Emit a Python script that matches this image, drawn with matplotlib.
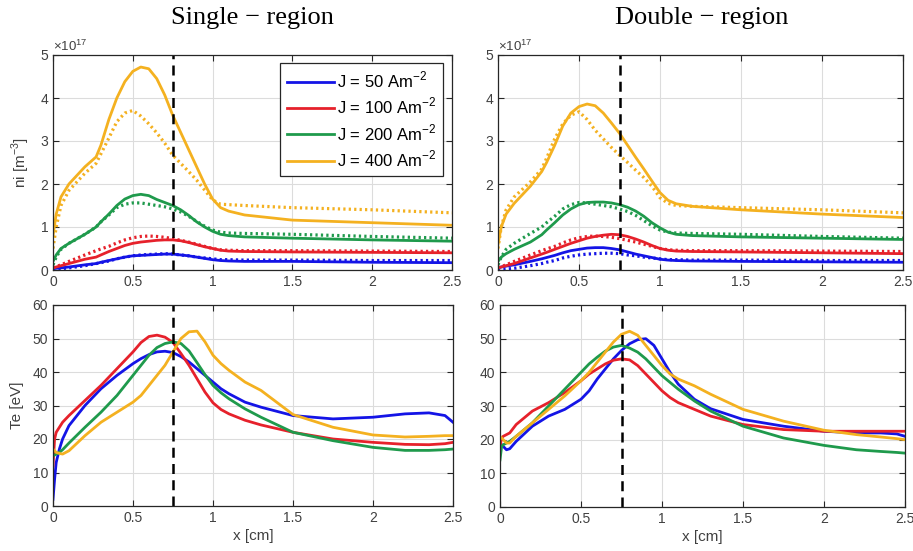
import matplotlib
matplotlib.use("Agg")
import matplotlib.pyplot as plt
import numpy as np

plt.rcParams['font.family'] = ['Liberation Sans', 'DejaVu Sans']
plt.rcParams['mathtext.fontset'] = 'custom'
plt.rcParams['mathtext.rm'] = 'Liberation Sans'

# ---------------- data ----------------
currents = [50, 100, 200, 400]
labels = ["J = 50 Am$^{-2}$", "J = 100 Am$^{-2}$", "J = 200 Am$^{-2}$", "J = 400 Am$^{-2}$"]
colors = ['#1414e6', '#e6212b', '#1f9a4c', '#f4b120']

x_ni = [0, 0.02, 0.05, 0.1, 0.2, 0.27, 0.3, 0.35, 0.4, 0.45, 0.5, 0.55, 0.6, 0.65, 0.7,
        0.75, 0.8, 0.85, 0.9, 0.95, 1.0, 1.05, 1.1, 1.2, 1.5, 2.0, 2.5]

# Single region, ni (x1e17 m^-3): solid lines
single_ni_solid_50 = [0.03, 0.04, 0.05, 0.07, 0.12, 0.15, 0.18, 0.22, 0.26, 0.3, 0.33, 0.34, 0.35, 0.36, 0.37,
                      0.37, 0.35, 0.33, 0.3, 0.27, 0.24, 0.22, 0.21, 0.2, 0.2, 0.18, 0.17]
single_ni_solid_100 = [0.05, 0.07, 0.1, 0.15, 0.25, 0.3, 0.35, 0.43, 0.5, 0.57, 0.62, 0.65, 0.67, 0.69, 0.7,
                       0.7, 0.68, 0.64, 0.59, 0.54, 0.5, 0.46, 0.44, 0.43, 0.42, 0.41, 0.4]
single_ni_solid_200 = [0.2, 0.35, 0.5, 0.62, 0.83, 1.0, 1.12, 1.3, 1.5, 1.65, 1.73, 1.76, 1.73, 1.64, 1.57,
                       1.5, 1.4, 1.27, 1.12, 1.0, 0.9, 0.83, 0.8, 0.77, 0.74, 0.7, 0.67]
single_ni_solid_400 = [0.8, 1.3, 1.7, 2.0, 2.4, 2.63, 2.9, 3.5, 4.0, 4.38, 4.62, 4.72, 4.68, 4.45, 4.07,
                       3.6, 3.2, 2.8, 2.4, 2.0, 1.65, 1.45, 1.37, 1.28, 1.16, 1.1, 1.04]
# Single region, ni: dotted lines
single_ni_dot_50 = [0.0, 0.01, 0.03, 0.05, 0.1, 0.15, 0.17, 0.21, 0.26, 0.3, 0.33, 0.35, 0.36, 0.37, 0.38,
                    0.37, 0.35, 0.33, 0.3, 0.28, 0.26, 0.24, 0.24, 0.23, 0.23, 0.22, 0.22]
single_ni_dot_100 = [0.05, 0.08, 0.12, 0.2, 0.35, 0.45, 0.49, 0.55, 0.63, 0.7, 0.75, 0.78, 0.79, 0.78, 0.76,
                     0.73, 0.69, 0.65, 0.6, 0.55, 0.5, 0.47, 0.46, 0.45, 0.45, 0.44, 0.43]
single_ni_dot_200 = [0.12, 0.3, 0.48, 0.62, 0.83, 1.0, 1.12, 1.28, 1.45, 1.53, 1.56, 1.56, 1.53, 1.5, 1.47,
                     1.42, 1.35, 1.25, 1.13, 1.02, 0.93, 0.88, 0.86, 0.85, 0.83, 0.78, 0.74]
single_ni_dot_400 = [0.5, 1.0, 1.5, 1.85, 2.25, 2.48, 2.7, 3.07, 3.45, 3.65, 3.71, 3.58, 3.4, 3.19, 2.95,
                     2.67, 2.48, 2.29, 2.09, 1.86, 1.63, 1.53, 1.52, 1.5, 1.45, 1.4, 1.33]

# Double region, ni: solid lines
double_ni_solid_50 = [0.05, 0.07, 0.09, 0.12, 0.2, 0.26, 0.29, 0.34, 0.4, 0.45, 0.48, 0.51, 0.52, 0.52, 0.5,
                      0.47, 0.42, 0.37, 0.33, 0.29, 0.25, 0.23, 0.22, 0.21, 0.2, 0.19, 0.18]
double_ni_solid_100 = [0.05, 0.07, 0.1, 0.15, 0.28, 0.37, 0.41, 0.48, 0.55, 0.62, 0.68, 0.74, 0.78, 0.81, 0.83,
                       0.82, 0.78, 0.72, 0.65, 0.57, 0.5, 0.46, 0.44, 0.43, 0.42, 0.4, 0.38]
double_ni_solid_200 = [0.2, 0.3, 0.38, 0.48, 0.65, 0.82, 0.93, 1.1, 1.28, 1.42, 1.52, 1.57, 1.58, 1.58, 1.56,
                       1.52, 1.46, 1.37, 1.25, 1.1, 0.98, 0.88, 0.83, 0.8, 0.77, 0.74, 0.71]
double_ni_solid_400 = [0.6, 1.0, 1.3, 1.55, 1.95, 2.29, 2.5, 2.9, 3.35, 3.65, 3.8, 3.86, 3.82, 3.65, 3.42,
                       3.18, 2.9, 2.62, 2.35, 2.07, 1.8, 1.62, 1.54, 1.48, 1.4, 1.3, 1.22]
# Double region, ni: dotted lines
double_ni_dot_50 = [0.0, 0.01, 0.02, 0.04, 0.1, 0.15, 0.18, 0.22, 0.28, 0.32, 0.35, 0.37, 0.38, 0.39, 0.39,
                    0.38, 0.35, 0.33, 0.3, 0.28, 0.26, 0.24, 0.24, 0.23, 0.23, 0.22, 0.22]
double_ni_dot_100 = [0.05, 0.08, 0.12, 0.2, 0.35, 0.45, 0.49, 0.55, 0.63, 0.7, 0.75, 0.78, 0.79, 0.78, 0.76,
                     0.73, 0.69, 0.65, 0.6, 0.55, 0.5, 0.47, 0.46, 0.45, 0.45, 0.44, 0.43]
double_ni_dot_200 = [0.12, 0.3, 0.48, 0.62, 0.85, 1.0, 1.1, 1.25, 1.42, 1.52, 1.57, 1.56, 1.53, 1.5, 1.47,
                     1.42, 1.36, 1.27, 1.15, 1.03, 0.93, 0.88, 0.86, 0.85, 0.83, 0.78, 0.74]
double_ni_dot_400 = [0.5, 1.0, 1.4, 1.7, 2.05, 2.35, 2.6, 3.05, 3.4, 3.6, 3.68, 3.5, 3.25, 3.05, 2.85,
                     2.67, 2.5, 2.32, 2.15, 1.95, 1.68, 1.55, 1.5, 1.48, 1.45, 1.4, 1.33]

x_te = [0, 0.01, 0.02, 0.04, 0.06, 0.1, 0.2, 0.3, 0.4, 0.5, 0.55, 0.6, 0.65, 0.7, 0.75, 0.8,
        0.85, 0.9, 0.95, 1.0, 1.05, 1.1, 1.2, 1.3, 1.5, 1.75, 2.0, 2.2, 2.35, 2.45, 2.5]

single_te_50 = [2, 8, 13, 17, 20, 24, 30, 35, 39, 42.5, 44, 45.2, 46, 46.2, 45.8, 44.6,
                43, 41, 39, 37, 35, 33.5, 31, 29.5, 27, 26, 26.5, 27.5, 27.8, 27, 25]
single_te_100 = [12, 20, 22, 23.5, 25, 27, 31.5, 36, 41, 46, 48.8, 50.6, 51, 50.4, 48.8, 45.5,
                 42, 38, 34, 30.8, 28.8, 27.5, 25.6, 24.2, 22, 20, 19, 18.4, 18.3, 18.6, 19]
single_te_200 = [15, 15.2, 15.5, 16, 16.8, 18.8, 23.5, 28, 33, 39, 42, 45, 47.3, 48.5, 49, 48.5,
                 46.3, 42.8, 39.2, 36, 33.8, 32, 29, 26.5, 22, 19.5, 17.5, 16.6, 16.6, 16.8, 17]
single_te_400 = [17, 16.5, 16, 15.7, 15.5, 16.5, 21, 25, 28, 31, 33, 36, 39, 42, 46, 50,
                 52, 52.2, 49, 45, 42.5, 40.5, 37, 34.5, 27.3, 23.5, 21.2, 20.6, 20.8, 21, 21]

double_te_50 = [19, 18.5, 18, 17, 17.3, 19.5, 24, 27, 29, 32, 34.5, 38, 41, 44, 46.5, 48.5,
                49.7, 50, 48, 44, 40, 36.5, 32, 29.2, 26, 24, 22.5, 22, 22, 21.7, 21]
double_te_100 = [18, 20.5, 21, 21.5, 22, 24.5, 28.5, 31, 34, 37.5, 39.5, 41, 42.5, 43.6, 44, 43.7,
                 42, 39.5, 37, 34.5, 32.5, 31, 29, 27, 24.5, 23, 22.5, 22.5, 22.5, 22.5, 22.5]
double_te_200 = [14, 18, 18.5, 19, 19.5, 21, 25, 30, 35, 40, 42.5, 44.5, 46.3, 47.5, 48, 47.2,
                 46, 44, 41.5, 39, 37, 35, 31.5, 28.5, 24, 20.5, 18.3, 17, 16.5, 16.2, 16]
double_te_400 = [21, 20.5, 20, 19, 19, 21, 25, 29, 33, 37.5, 40, 43, 46, 49, 51.3, 52.2,
                 51, 48, 45, 42, 39.5, 38, 36, 33.5, 29, 25.5, 22.8, 21.5, 20.8, 20.3, 20]

x_boundary = 0.75
x_ticks = [0, 0.5, 1, 1.5, 2, 2.5]
x_ticklabels = ['0', '0.5', '1', '1.5', '2', '2.5']

single_solid = [single_ni_solid_50, single_ni_solid_100, single_ni_solid_200, single_ni_solid_400]
single_dot = [single_ni_dot_50, single_ni_dot_100, single_ni_dot_200, single_ni_dot_400]
double_solid = [double_ni_solid_50, double_ni_solid_100, double_ni_solid_200, double_ni_solid_400]
double_dot = [double_ni_dot_50, double_ni_dot_100, double_ni_dot_200, double_ni_dot_400]
single_te = [single_te_50, single_te_100, single_te_200, single_te_400]
double_te = [double_te_50, double_te_100, double_te_200, double_te_400]

# ---------------- figure ----------------
W, H = 913, 551
fig = plt.figure(figsize=(W / 100, H / 100), dpi=100)

def pos(l, r, t, b):
    return [l / W, 1 - b / H, (r - l) / W, (b - t) / H]

ax_tl = fig.add_axes(pos(53, 452, 55, 270))
ax_tr = fig.add_axes(pos(498, 903, 55, 270))
ax_bl = fig.add_axes(pos(53, 453, 305, 506))
ax_br = fig.add_axes(pos(500, 905, 305, 507))

tick_color = '#404040'

def style(ax, ymax, yticks):
    ax.set_xlim(0, 2.5)
    ax.set_ylim(0, ymax)
    ax.set_xticks(x_ticks)
    ax.set_xticklabels(x_ticklabels)
    ax.set_yticks(yticks)
    ax.grid(True, color='#dcdcdc', linewidth=0.8)
    ax.set_axisbelow(True)
    ax.tick_params(direction='in', top=True, right=True, length=4, width=0.8,
                   labelsize=10, colors='#262626', labelcolor=tick_color)
    for s in ax.spines.values():
        s.set_color('#262626')
        s.set_linewidth(0.9)

lw = 2.0
dot_ls = (0, (0.7, 1.0))
for ax, solid, dot in [(ax_tl, single_solid, single_dot), (ax_tr, double_solid, double_dot)]:
    style(ax, 5, [0, 1, 2, 3, 4, 5])
    handles = []
    for c, ys, yd, lab in zip(colors, solid, dot, labels):
        h, = ax.plot(x_ni, ys, color=c, lw=lw, solid_joinstyle='round', label=lab)
        ax.plot(x_ni, yd, color=c, lw=2.3, linestyle=dot_ls)
        handles.append(h)
    ax.axvline(x_boundary, color='black', lw=1.8, linestyle=(0, (4, 2.5)))
    ax.text(0.0, 1.005, r'$\times\mathregular{10^{17}}$', transform=ax.transAxes,
            fontsize=9.5, color=tick_color, ha='left', va='bottom')
    if ax is ax_tl:
        leg = ax.legend(handles=handles, loc='upper right', bbox_to_anchor=(0.978, 0.962),
                        fontsize=12, frameon=True, fancybox=False, framealpha=1,
                        edgecolor='#262626', handlelength=2.8, handletextpad=0.2,
                        labelspacing=0.35, borderpad=0.4, borderaxespad=0)
        leg.get_frame().set_linewidth(0.9)

for ax, te in [(ax_bl, single_te), (ax_br, double_te)]:
    style(ax, 60, [0, 10, 20, 30, 40, 50, 60])
    for c, y in zip(colors, te):
        ax.plot(x_te, y, color=c, lw=lw, solid_joinstyle='round')
    ax.axvline(x_boundary, color='black', lw=1.8, linestyle=(0, (4, 2.5)))
    ax.set_xlabel('x [cm]', fontsize=11, color=tick_color, labelpad=3)

ax_tl.set_ylabel('ni [m$^{-3}$]', fontsize=11, color=tick_color, labelpad=6)
ax_bl.set_ylabel('Te [eV]', fontsize=11, color=tick_color, labelpad=6)

fig.text(252 / W, 1 - 18 / H, 'Single \u2212 region', family=['Liberation Serif', 'DejaVu Serif'],
         fontsize=19, ha='center', va='center')
fig.text(702 / W, 1 - 18 / H, 'Double \u2212 region', family=['Liberation Serif', 'DejaVu Serif'],
         fontsize=19, ha='center', va='center')

fig.savefig('out.png', dpi=100)
